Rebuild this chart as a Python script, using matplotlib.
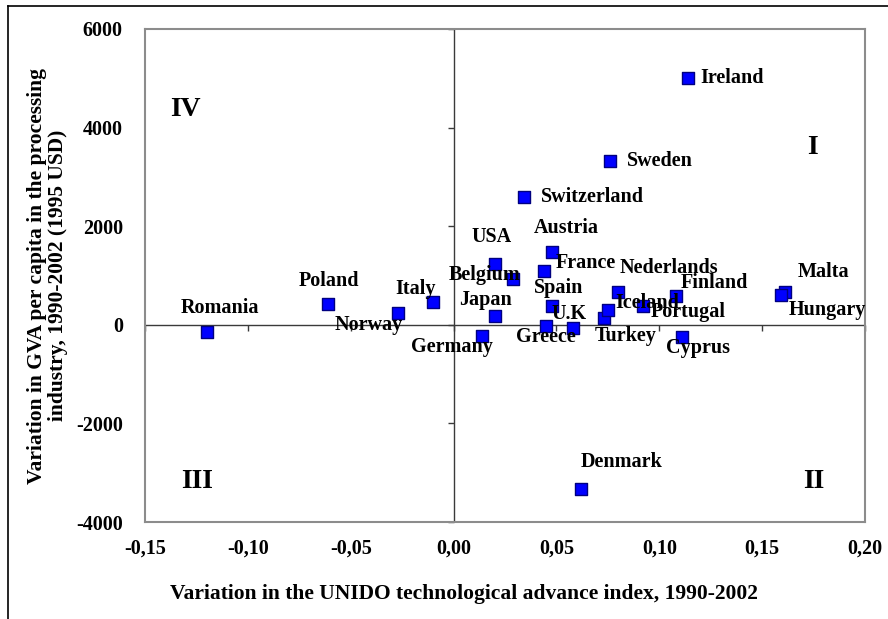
import matplotlib
matplotlib.use("Agg")
import matplotlib.pyplot as plt
from matplotlib.lines import Line2D

# ---------------- data ----------------
countries = ["Romania", "Poland", "Norway", "Italy", "Germany", "Japan", "USA",
             "Belgium", "Switzerland", "France", "Austria", "Spain", "Greece",
             "U.K", "Turkey", "Iceland", "Nederlands", "Portugal", "Finland",
             "Cyprus", "Malta", "Hungary", "Ireland", "Sweden", "Denmark"]
tech_var = [-0.120, -0.061, -0.027, -0.010, 0.014, 0.020, 0.020,
            0.029, 0.034, 0.044, 0.048, 0.048, 0.045,
            0.058, 0.073, 0.075, 0.080, 0.092, 0.108,
            0.111, 0.161, 0.159, 0.114, 0.076, 0.062]
gva_var = [-140, 430, 240, 470, -220, 170, 1240,
           920, 2600, 1090, 1470, 390, -30,
           -60, 140, 310, 660, 390, 580,
           -250, 660, 610, 5010, 3330, -3330]

xticks = [-0.15, -0.10, -0.05, 0.00, 0.05, 0.10, 0.15, 0.20]
xtick_labels = ["-0,15", "-0,10", "-0,05", "0,00", "0,05", "0,10", "0,15", "0,20"]
yticks = [-4000, -2000, 0, 2000, 4000, 6000]
ytick_labels = ["-4000", "-2000", "0", "2000", "4000", "6000"]

quadrants = ["I", "II", "III", "IV"]

# label placement (pixel offsets from marker, horizontal alignment)
label_pos = {
    "Ireland": (12, 0, "left"), "Sweden": (17, 0, "left"),
    "Switzerland": (17, 0, "left"), "Austria": (14, 24, "center"),
    "USA": (-3, 27, "center"), "France": (12, 8, "left"),
    "Belgium": (-29, 4, "center"), "Spain": (6, 18, "center"),
    "Japan": (-9, 16, "center"), "U.K": (-4, 14, "center"),
    "Greece": (0, -11, "center"), "Germany": (-30, -11, "center"),
    "Turkey": (22, -18, "center"), "Iceland": (39, 7, "center"),
    "Nederlands": (51, 24, "center"), "Portugal": (45, -6, "center"),
    "Finland": (39, 13, "center"), "Cyprus": (16, -11, "center"),
    "Malta": (39, 20, "center"), "Hungary": (47, -15, "center"),
    "Romania": (13, 24, "center"), "Poland": (1, 23, "center"),
    "Norway": (-29, -12, "center"), "Italy": (-17, 13, "center"),
    "Denmark": (40, 27, "center"),
}
quad_pos = {"IV": (-0.1305, 4360), "I": (0.1745, 3590),
            "III": (-0.1245, -3185), "II": (0.175, -3185)}

# ---------------- figure ----------------
plt.rcParams["font.family"] = ["Liberation Serif", "DejaVu Serif"]
plt.rcParams["font.weight"] = "bold"

fig = plt.figure(figsize=(8.88, 6.19), dpi=100)
ax = fig.add_axes([145 / 888, 1 - 522 / 619, 720 / 888, 493 / 619])

ax.set_xlim(-0.15, 0.20)
ax.set_ylim(-4000, 6000)

for s in ax.spines.values():
    s.set_color("#8c8c8c")
    s.set_linewidth(1.5)

ax.axhline(0, color="#3a3a3a", lw=1.0, zorder=1)
ax.axvline(0, color="#3a3a3a", lw=1.0, zorder=1)
ax.plot(xticks, [0] * len(xticks), ls="none", marker=3, ms=4.5,
        mew=1.0, color="#3a3a3a", zorder=1, clip_on=False)
ax.plot([0] * len(yticks), yticks, ls="none", marker=0, ms=4.5,
        mew=1.0, color="#3a3a3a", zorder=1, clip_on=False)

ax.set_xticks(xticks)
ax.set_xticklabels(xtick_labels)
ax.set_yticks(yticks)
ax.set_yticklabels(ytick_labels)
ax.tick_params(axis="both", length=0, labelsize=14.5)
ax.tick_params(axis="x", pad=12)
ax.tick_params(axis="y", pad=16)
for t in ax.get_xticklabels() + ax.get_yticklabels():
    t.set_fontweight("bold")

ax.scatter(tech_var, gva_var, marker="s", s=80, c="#0000ff",
           edgecolors="#000080", linewidths=1.0, zorder=3)

for name, x, y in zip(countries, tech_var, gva_var):
    dx, dy, ha = label_pos[name]
    ax.annotate(name, (x, y), xytext=(dx, dy), textcoords="offset pixels",
                ha=ha, va="center", fontsize=14.5, fontweight="bold",
                color="black", zorder=4)

for q in quadrants:
    qx, qy = quad_pos[q]
    ax.text(qx, qy, q, ha="center", va="center", fontsize=20,
            fontweight="bold")

ax.set_xlabel("Variation in the UNIDO technological advance index, 1990-2002",
              fontsize=15.5, fontweight="bold")
ax.xaxis.set_label_coords((464 - 145) / 720, (522 - 584) / 493)
ax.xaxis.label.set_va("top")
ax.set_ylabel("Variation in GVA per capita in the processing\n"
              "industry, 1990-2002 (1995 USD)",
              fontsize=15.5, fontweight="bold", labelpad=6, linespacing=1.05)

# outer chart border (left and top edges visible)
fig.add_artist(Line2D([8 / 888, 8 / 888], [0, 1 - 6 / 619],
                      transform=fig.transFigure, color="black", lw=1.2))
fig.add_artist(Line2D([8 / 888, 1], [1 - 6 / 619, 1 - 6 / 619],
                      transform=fig.transFigure, color="black", lw=1.2))

fig.savefig("out.png", dpi=100)
